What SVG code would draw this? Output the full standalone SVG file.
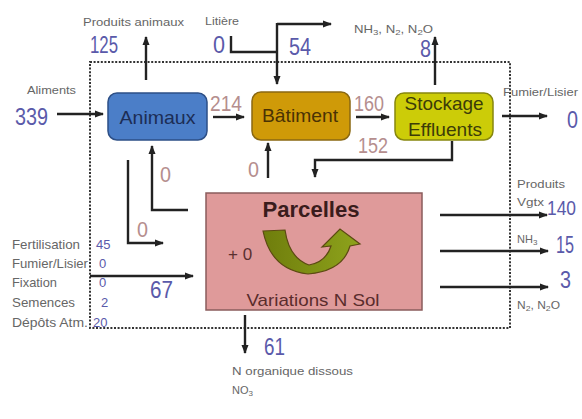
<svg xmlns="http://www.w3.org/2000/svg" width="582" height="419" viewBox="0 0 582 419">
<defs>
<marker id="ah" markerWidth="9" markerHeight="8" refX="8" refY="4" orient="auto" markerUnits="userSpaceOnUse">
<path d="M0,0.5 L9,4 L0,7.5 Z" fill="#222"/>
</marker>
<linearGradient id="gr" x1="0" y1="0" x2="1" y2="0">
<stop offset="0" stop-color="#6f7d0c"/>
<stop offset="1" stop-color="#8ea31c"/>
</linearGradient>
<style>
.ln{fill:none;stroke:#222;stroke-width:2.4}
.ar{marker-end:url(#ah)}
.sm{font-family:"Liberation Sans",Arial,sans-serif;font-size:11px;fill:#666}
.lst{font-family:"Liberation Sans",Arial,sans-serif;font-size:13px;fill:#666}
.bn{font-family:"Liberation Sans",Arial,sans-serif;font-size:23px;fill:#5a5aaa}
.bs{font-family:"Liberation Sans",Arial,sans-serif;font-size:13px;fill:#5a5aaa}
.pk{font-family:"Liberation Sans",Arial,sans-serif;font-size:22px;fill:#b58e8e}
.bx{font-family:"Liberation Sans",Arial,sans-serif;font-size:19px;text-anchor:middle}
</style>
</defs>
<rect width="582" height="419" fill="#fff"/>
<rect x="90" y="62" width="420" height="266" fill="none" stroke="#333" stroke-width="2" stroke-dasharray="2,1.6"/>

<g id="animaux">
<rect x="108" y="93" width="99" height="47" rx="9" fill="#4b7ec8" stroke="#2d4f86" stroke-width="1.5"/>
<text class="bx" x="157.5" y="124" fill="#1c2d55" textLength="76" lengthAdjust="spacingAndGlyphs">Animaux</text>
</g>
<g id="batiment">
<rect x="252" y="92" width="98" height="48" rx="9" fill="#cf9a08" stroke="#8a6812" stroke-width="1.5"/>
<text class="bx" x="300" y="122" fill="#4a3204" textLength="76" lengthAdjust="spacingAndGlyphs">Bâtiment</text>
</g>
<g id="stockage">
<rect x="395" y="93" width="98" height="47" rx="9" fill="#cccc08" stroke="#86860e" stroke-width="1.5"/>
<text class="bx" x="444" y="110" fill="#3c3c08" textLength="79" lengthAdjust="spacingAndGlyphs">Stockage</text>
<text class="bx" x="445" y="136" fill="#3c3c08" textLength="74" lengthAdjust="spacingAndGlyphs">Effluents</text>
</g>
<g id="parcelles">
<rect x="206" y="193" width="216" height="117" fill="#df9a9a" stroke="#8a5c5c" stroke-width="1.5"/>
<text x="311" y="217" font-family="Liberation Sans,Arial,sans-serif" font-size="22" font-weight="bold" fill="#3a1c1c" text-anchor="middle" textLength="97" lengthAdjust="spacingAndGlyphs">Parcelles</text>
<text x="228" y="260" font-family="Liberation Sans,Arial,sans-serif" font-size="17" fill="#5a3030">+ 0</text>
<path d="M263 231 L285 230 Q289 258 309 265 Q326 262 331 246 L322 247 L340 229 L360 244 L350 246 Q343 271 308 274 Q271 270 263 231 Z" fill="url(#gr)" stroke="#5c4a12" stroke-width="1.2"/>
<text x="313" y="306" font-family="Liberation Sans,Arial,sans-serif" font-size="17" fill="#5a2c2c" text-anchor="middle" textLength="133" lengthAdjust="spacingAndGlyphs">Variations N Sol</text>
</g>

<g id="connectors">
<path class="ln ar" d="M57 114 H103"/>
<path class="ln ar" d="M146 80 V37"/>
<path class="ln" d="M231 36 V52 H277"/>
<path class="ln ar" d="M277 23 V84"/>
<path class="ln ar" d="M277 24 H331"/>
<path class="ln ar" d="M213 117 H244"/>
<path class="ln ar" d="M356 117 H389"/>
<path class="ln ar" d="M435 85 V37"/>
<path class="ln ar" d="M502 116 H547"/>
<path class="ln ar" d="M452 141 V160 H315 V177"/>
<path class="ln ar" d="M268 178 V143"/>
<path class="ln ar" d="M188 210 H152 V146"/>
<path class="ln ar" d="M128 160 V243 H163"/>
<path class="ln ar" d="M90 276 H193"/>
<path class="ln ar" d="M245 315 V353"/>
<path class="ln ar" d="M440 215 H547"/>
<path class="ln ar" d="M440 251 H548"/>
<path class="ln ar" d="M440 287 H548"/>
</g>

<g id="labels">
<text class="sm" x="83" y="26" textLength="101" lengthAdjust="spacingAndGlyphs">Produits animaux</text>
<text class="bn" x="90" y="53" textLength="28" lengthAdjust="spacingAndGlyphs">125</text>
<text class="sm" x="205" y="25" textLength="34" lengthAdjust="spacingAndGlyphs">Litière</text>
<text class="bn" x="213" y="53" textLength="12" lengthAdjust="spacingAndGlyphs">0</text>
<text class="bn" x="289" y="55" textLength="22" lengthAdjust="spacingAndGlyphs">54</text>
<text class="sm" x="354" y="33" textLength="79" lengthAdjust="spacingAndGlyphs">NH<tspan font-size="8" dy="2">3</tspan><tspan dy="-2">, N</tspan><tspan font-size="8" dy="2">2</tspan><tspan dy="-2">, N</tspan><tspan font-size="8" dy="2">2</tspan><tspan dy="-2">O</tspan></text>
<text class="bn" x="420" y="57" textLength="11" lengthAdjust="spacingAndGlyphs">8</text>
<text class="sm" x="27" y="94" textLength="49" lengthAdjust="spacingAndGlyphs">Aliments</text>
<text class="bn" x="15" y="125" textLength="33" lengthAdjust="spacingAndGlyphs">339</text>
<text class="pk" x="210" y="111" textLength="32" lengthAdjust="spacingAndGlyphs">214</text>
<text class="pk" x="354" y="111" textLength="30" lengthAdjust="spacingAndGlyphs">160</text>
<text class="pk" x="358" y="153" textLength="30" lengthAdjust="spacingAndGlyphs">152</text>
<text class="sm" x="503" y="96" textLength="75" lengthAdjust="spacingAndGlyphs">Fumier/Lisier</text>
<text class="bn" x="567" y="128" textLength="11" lengthAdjust="spacingAndGlyphs">0</text>
<text class="pk" x="248" y="177" textLength="11" lengthAdjust="spacingAndGlyphs">0</text>
<text class="pk" x="160" y="182" textLength="11" lengthAdjust="spacingAndGlyphs">0</text>
<text class="pk" x="137" y="237" textLength="11" lengthAdjust="spacingAndGlyphs">0</text>
<text class="lst" x="12" y="249" textLength="68" lengthAdjust="spacingAndGlyphs">Fertilisation</text>
<text class="lst" x="12" y="268" textLength="76" lengthAdjust="spacingAndGlyphs">Fumier/Lisier</text>
<text class="lst" x="12" y="287" textLength="45" lengthAdjust="spacingAndGlyphs">Fixation</text>
<text class="lst" x="12" y="307" textLength="63" lengthAdjust="spacingAndGlyphs">Semences</text>
<text class="lst" x="12" y="327" textLength="76" lengthAdjust="spacingAndGlyphs">Dépôts Atm.</text>
<text class="bs" x="96" y="249">45</text>
<text class="bs" x="99" y="268">0</text>
<text class="bs" x="99" y="287">0</text>
<text class="bs" x="101" y="307">2</text>
<text class="bs" x="93" y="327">20</text>
<text class="bn" x="150" y="298" textLength="23" lengthAdjust="spacingAndGlyphs">67</text>
<text class="bn" x="264" y="355" textLength="21" lengthAdjust="spacingAndGlyphs">61</text>
<text class="sm" x="232" y="375" textLength="121" lengthAdjust="spacingAndGlyphs">N organique dissous</text>
<text class="sm" x="232" y="394">NO<tspan font-size="8" dy="2">3</tspan></text>
<text class="sm" x="517" y="188" textLength="48" lengthAdjust="spacingAndGlyphs">Produits</text>
<text class="sm" x="517" y="206" textLength="27" lengthAdjust="spacingAndGlyphs">Vgtx</text>
<text class="bn" x="547" y="215" style="font-size:20px" textLength="29" lengthAdjust="spacingAndGlyphs">140</text>
<text class="sm" x="517" y="243">NH<tspan font-size="8" dy="2">3</tspan></text>
<text class="bn" x="556" y="253" textLength="18" lengthAdjust="spacingAndGlyphs">15</text>
<text class="bn" x="560" y="288" textLength="11" lengthAdjust="spacingAndGlyphs">3</text>
<text class="sm" x="517" y="309" textLength="43" lengthAdjust="spacingAndGlyphs">N<tspan font-size="8" dy="2">2</tspan><tspan dy="-2">, N</tspan><tspan font-size="8" dy="2">2</tspan><tspan dy="-2">O</tspan></text>
</g>
</svg>
